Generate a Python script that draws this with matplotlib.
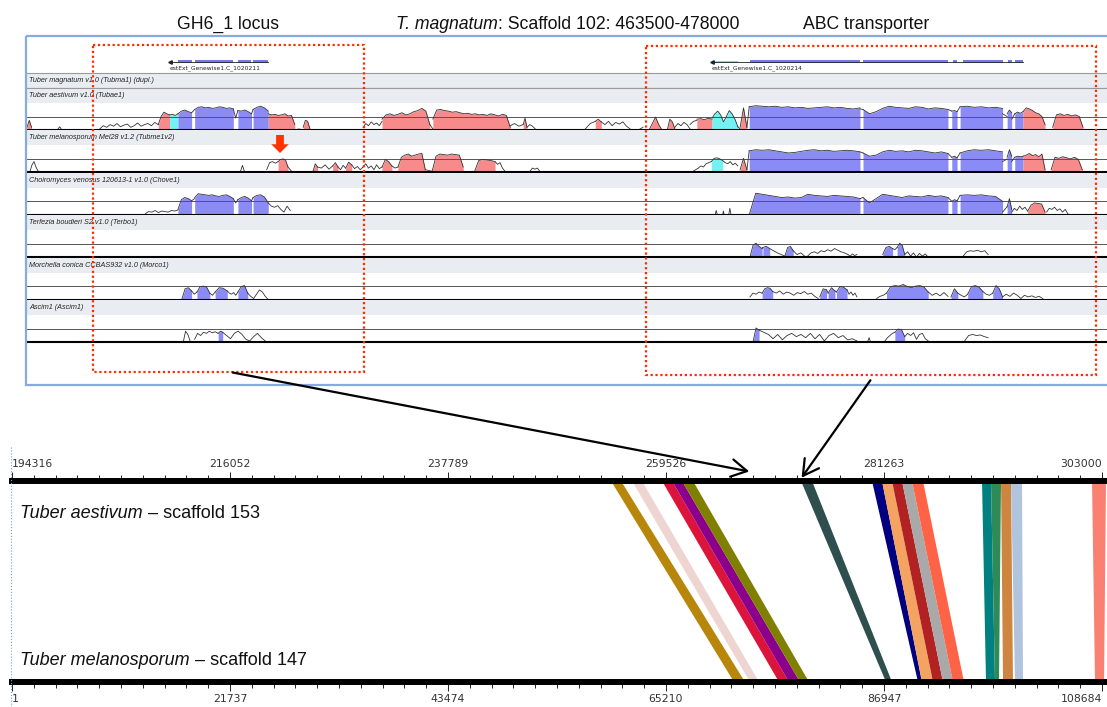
import numpy as np
import matplotlib
matplotlib.use("Agg")
import matplotlib.pyplot as plt
from matplotlib import font_manager
from matplotlib.lines import Line2D
from matplotlib.patches import Rectangle, Polygon, FancyArrowPatch
from matplotlib.transforms import Affine2D

W, H = 1107, 707

# ---- VISTA conservation tracks (scaffold 102, kb; values = % identity) ----
# each block: (start kb, end kb, class, values); class b=exon, r=CNS, c=UTR, k=unfilled
tubae1 = [
    (463.50, 463.56, "r", [55, 68, 55]),
    (463.90, 463.96, "k", [50, 56, 50]),
    (464.46, 465.23, "k", [52, 58, 55, 60, 57, 62, 56, 59, 61, 55, 58, 63, 57, 60, 62, 58, 64, 60]),
    (465.23, 465.38, "r", [60, 75, 83, 80, 78]),
    (465.38, 465.49, "c", [78, 79, 77, 80]),
    (465.49, 465.67, "b", [80, 85, 87, 84, 82]),
    (465.67, 465.71, "k", [82, 88]),
    (465.71, 466.22, "b", [88, 92, 93, 91, 92, 90, 91, 93, 92, 90, 91, 89]),
    (466.22, 466.28, "k", [89, 72, 86]),
    (466.28, 466.46, "b", [86, 85, 87, 84, 80]),
    (466.46, 466.48, "k", [80, 88]),
    (466.48, 466.68, "b", [88, 92, 94, 91, 85]),
    (466.68, 467.03, "r", [80, 78, 79, 77, 78, 80, 76, 77, 60]),
    (467.03, 467.14, "k", [50, 52, 50]),
    (467.14, 467.23, "r", [55, 68, 66, 52]),
    (467.93, 468.18, "k", [55, 62, 58, 65, 60, 63, 58, 66]),
    (468.18, 468.81, "r", [70, 78, 80, 77, 79, 82, 78, 80, 84, 86, 90, 85, 60]),
    (468.81, 468.85, "k", [60, 52]),
    (468.85, 469.87, "r", [70, 87, 88, 86, 85, 83, 84, 82, 80, 81, 79, 80, 78, 79, 77, 80, 78, 76, 79, 77, 55]),
    (469.87, 470.04, "k", [58, 62, 57, 60]),
    (470.04, 470.09, "r", [60, 72, 55]),
    (470.09, 470.20, "k", [55, 60, 57, 52]),
    (470.86, 470.99, "k", [52, 62, 66]),
    (470.99, 471.07, "r", [66, 70, 65]),
    (471.07, 471.45, "k", [65, 60, 66, 58, 64, 61, 65, 57, 52]),
    (471.58, 471.62, "k", [52, 55]),
    (471.70, 471.87, "r", [50, 62, 74, 60, 50]),
    (471.94, 472.04, "r", [50, 70, 65, 52]),
    (472.04, 472.24, "k", [55, 62, 58, 64, 60, 52]),
    (472.24, 472.33, "k", [60, 66, 68]),
    (472.33, 472.53, "r", [70, 71, 69, 72, 70]),
    (472.53, 472.87, "c", [72, 80, 85, 78, 65, 75, 86, 80, 70, 56]),
    (472.87, 472.90, "k", [56, 52]),
    (472.90, 472.99, "r", [55, 91, 55]),
    (472.99, 473.02, "k", [55, 93]),
    (473.02, 474.48, "b", [93, 95, 94, 93, 94, 92, 93, 91, 92, 90, 91, 92, 93, 91, 92, 90, 89, 91]),
    (474.48, 474.52, "k", [89, 88]),
    (474.52, 475.64, "b", [88, 80, 84, 90, 94, 92, 91, 90, 93, 92, 89, 91, 90, 88]),
    (475.64, 475.69, "k", [88, 85]),
    (475.69, 475.76, "b", [85, 86, 84]),
    (475.76, 475.80, "k", [84, 93]),
    (475.80, 476.36, "b", [93, 94, 92, 93, 91, 92, 90]),
    (476.36, 476.42, "k", [80, 75]),
    (476.42, 476.48, "b", [80, 87, 82]),
    (476.48, 476.52, "k", [70, 80]),
    (476.52, 476.63, "b", [80, 83, 81, 84]),
    (476.63, 476.92, "r", [84, 91, 89, 86, 82, 80, 75, 60]),
    (477.02, 477.42, "r", [55, 78, 80, 77, 79, 76, 78, 75, 55]),
]

tubme1v2 = [
    (463.54, 463.67, "k", [52, 64, 70, 60, 53, 50]),
    (466.31, 466.37, "k", [50, 63, 50]),
    (466.66, 466.81, "k", [55, 68, 70, 67, 70]),
    (466.81, 466.94, "r", [70, 74, 75, 73, 60]),
    (466.94, 467.00, "k", [60, 55, 50]),
    (467.27, 467.33, "r", [52, 66, 60]),
    (467.33, 467.53, "k", [60, 58, 64, 56, 62]),
    (467.53, 467.60, "r", [62, 68, 60]),
    (467.60, 467.70, "k", [60, 55, 63, 58]),
    (467.70, 467.78, "r", [58, 69, 64]),
    (467.78, 467.93, "k", [64, 57, 61, 55, 60]),
    (467.93, 468.18, "k", [60, 66, 58, 62, 55, 64, 57, 60]),
    (468.18, 468.31, "r", [60, 74, 70, 62]),
    (468.31, 468.39, "k", [62, 58, 60]),
    (468.39, 468.75, "r", [60, 78, 82, 84, 80, 82, 84, 85, 55]),
    (468.75, 468.84, "k", [55, 52]),
    (468.84, 469.25, "r", [52, 80, 84, 83, 82, 84, 83, 82, 60]),
    (469.40, 469.67, "r", [52, 72, 74, 73, 72, 70]),
    (469.67, 469.80, "k", [70, 65, 68, 58, 52]),
    (470.13, 470.26, "k", [52, 58, 56, 58, 52]),
    (472.28, 472.52, "k", [52, 55, 58, 62, 60, 66, 68, 70]),
    (472.52, 472.67, "c", [70, 76, 77, 75, 72]),
    (472.67, 472.87, "k", [72, 68, 66, 70, 64, 67, 62]),
    (472.90, 472.99, "r", [55, 76, 55]),
    (472.99, 473.02, "k", [55, 90]),
    (473.02, 474.48, "b", [90, 92, 91, 92, 90, 88, 86, 87, 89, 91, 92, 90, 91, 89, 90, 91, 90, 88]),
    (474.48, 474.52, "k", [88, 86]),
    (474.52, 475.64, "b", [86, 80, 82, 88, 91, 89, 90, 88, 91, 90, 88, 86, 88, 85]),
    (475.64, 475.69, "k", [85, 78]),
    (475.69, 475.76, "b", [78, 80, 77]),
    (475.76, 475.80, "k", [77, 86]),
    (475.80, 476.36, "b", [86, 90, 92, 91, 92, 90, 88]),
    (476.36, 476.42, "k", [70, 75]),
    (476.42, 476.48, "b", [78, 92, 80]),
    (476.48, 476.52, "k", [70, 78]),
    (476.52, 476.63, "b", [78, 80, 79, 80]),
    (476.63, 476.92, "r", [80, 82, 85, 81, 83, 79, 84, 55]),
    (477.00, 477.41, "r", [55, 78, 76, 79, 77, 75, 78, 74, 55]),
]

chove1 = [
    (465.06, 465.49, "k", [52, 56, 55, 58, 54, 57, 56, 55, 58, 57, 59]),
    (465.49, 465.67, "b", [60, 78, 82, 80, 76]),
    (465.67, 465.71, "k", [76, 80]),
    (465.71, 466.22, "b", [82, 89, 88, 87, 86, 87, 85, 84, 86, 87, 84, 80]),
    (466.22, 466.28, "k", [80, 72, 78]),
    (466.28, 466.46, "b", [78, 82, 84, 81, 76]),
    (466.46, 466.48, "k", [76, 82]),
    (466.48, 466.68, "b", [82, 86, 87, 83, 72]),
    (466.68, 466.97, "k", [72, 66, 64, 67, 60, 55, 66, 58]),
    (472.57, 472.60, "k", [50, 58, 50]),
    (472.67, 472.69, "k", [50, 57, 50]),
    (472.75, 472.78, "k", [50, 62, 50]),
    (473.02, 474.48, "b", [50, 90, 88, 86, 84, 82, 83, 81, 82, 88, 86, 85, 84, 86, 85, 84, 83, 80]),
    (474.48, 474.52, "k", [80, 82]),
    (474.52, 475.64, "b", [82, 72, 80, 88, 86, 84, 82, 85, 84, 83, 86, 84, 85, 82]),
    (475.64, 475.69, "k", [82, 75]),
    (475.69, 475.76, "b", [75, 78, 76]),
    (475.76, 475.80, "k", [76, 86]),
    (475.80, 476.36, "b", [86, 87, 86, 87, 85, 84, 75]),
    (476.36, 476.42, "k", [55, 65]),
    (476.42, 476.48, "b", [65, 80, 60]),
    (476.48, 476.69, "k", [55, 62, 58, 66, 60, 64, 57]),
    (476.69, 476.92, "r", [57, 68, 72, 71, 70, 55]),
    (476.94, 477.22, "k", [55, 62, 60, 64, 58, 61, 55, 60, 52]),
]

terbo1 = [
    (473.03, 473.19, "b", [50, 72, 76, 70, 66]),
    (473.19, 473.20, "k", [66, 68]),
    (473.20, 473.29, "b", [68, 70, 66]),
    (473.29, 473.49, "k", [66, 62, 58, 55, 52]),
    (473.49, 473.60, "b", [52, 68, 70, 62]),
    (473.60, 473.75, "k", [62, 55, 58, 52]),
    (473.79, 474.32, "k", [52, 58, 60, 57, 62, 60, 64, 61, 66, 63, 60, 58, 55]),
    (474.32, 474.44, "k", [55, 52, 56, 53, 55]),
    (474.78, 474.91, "b", [55, 68, 70, 66]),
    (474.91, 474.97, "k", [66, 64, 68]),
    (474.97, 475.07, "b", [68, 76, 72, 55]),
    (475.07, 475.38, "k", [55, 60, 52, 58, 50, 57, 52, 56, 50]),
    (475.84, 476.17, "k", [52, 60, 62, 61, 63, 60, 62, 55]),
]

morco1 = [
    (465.54, 465.67, "b", [50, 70, 72, 66]),
    (465.67, 465.74, "k", [66, 60, 64]),
    (465.74, 465.91, "b", [64, 74, 75, 73, 62]),
    (465.91, 465.98, "k", [62, 58, 64]),
    (465.98, 466.14, "b", [64, 72, 71, 66]),
    (466.14, 466.28, "k", [66, 62, 60, 63, 58, 64]),
    (466.28, 466.41, "b", [64, 74, 76, 62]),
    (466.41, 466.68, "k", [62, 56, 52, 60, 68, 64, 56, 50]),
    (473.03, 473.19, "k", [55, 62, 60, 64, 62]),
    (473.19, 473.33, "b", [62, 70, 72, 71, 65]),
    (473.33, 473.93, "k", [65, 62, 66, 60, 64, 62, 58, 63, 61, 65, 60, 62, 56, 52]),
    (473.95, 474.04, "b", [55, 70, 68]),
    (474.04, 474.06, "k", [68, 62]),
    (474.06, 474.15, "b", [62, 72, 66]),
    (474.15, 474.17, "k", [66, 64]),
    (474.17, 474.31, "b", [64, 74, 73, 68]),
    (474.31, 474.44, "k", [68, 60, 64, 58, 62, 55]),
    (474.70, 474.83, "k", [52, 56, 58, 62]),
    (474.83, 475.38, "b", [62, 74, 76, 75, 78, 74, 72, 75, 76, 73, 64]),
    (475.38, 475.64, "k", [64, 58, 62, 57, 63, 56]),
    (475.68, 475.77, "b", [55, 70, 62]),
    (475.77, 475.90, "k", [62, 58, 55, 60]),
    (475.90, 476.10, "b", [60, 74, 76, 73, 65]),
    (476.10, 476.23, "k", [65, 60, 58, 62]),
    (476.23, 476.36, "b", [62, 76, 70, 55]),
    (476.36, 476.89, "k", [55, 60, 56, 62, 58, 52, 58, 55, 57, 54, 56, 52]),
]

ascim1 = [
    (465.56, 465.65, "k", [50, 70, 64, 52]),
    (465.71, 466.02, "k", [55, 66, 62, 68, 66, 70, 67, 69, 66]),
    (466.02, 466.08, "b", [66, 70, 68]),
    (466.08, 466.64, "k", [68, 62, 56, 66, 70, 64, 55, 52, 60, 66, 58, 52]),
    (473.07, 473.15, "b", [50, 76, 72]),
    (473.15, 474.44, "k", [72, 68, 64, 56, 64, 54, 62, 66, 60, 64, 58, 66, 56, 64, 52, 62, 66, 58, 62, 54, 56, 52]),
    (474.58, 474.62, "k", [50, 58, 50]),
    (474.81, 474.94, "k", [52, 58, 62, 66, 68]),
    (474.94, 475.07, "b", [68, 74, 73, 60]),
    (475.07, 475.38, "k", [60, 66, 62, 67, 55, 64, 66, 56, 52]),
    (475.86, 476.17, "k", [52, 62, 64, 62, 63, 60, 58]),
]

track_names = [
    "Tuber aestivum v1.0 (Tubae1)",
    "Tuber melanosporum Mel28 v1.2 (Tubme1v2)",
    "Choiromyces venosus 120613-1 v1.0 (Chove1)",
    "Terfezia boudieri S2 v1.0 (Terbo1)",
    "Morchella conica CCBAS932 v1.0 (Morco1)",
    "Ascim1 (Ascim1)",
]
track_data = [tubae1, tubme1v2, chove1, terbo1, morco1, ascim1]

# gene models on scaffold 102 (kb)
gh6_span = (465.38, 466.68)
gh6_exons = [(465.49, 465.67), (465.71, 466.22), (466.28, 466.45), (466.48, 466.68)]
abc_span = (472.53, 476.63)
abc_utr = (472.53, 472.87)
abc_exons = [(473.03, 474.48), (474.52, 475.64), (475.70, 475.76),
             (475.84, 476.36), (476.43, 476.48), (476.53, 476.63)]

# ---- synteny between T. aestivum scaffold 153 and T. melanosporum scaffold 147 ----
aest_ticks = [194316, 216052, 237789, 259526, 281263, 303000]
mel_ticks = [1, 21737, 43474, 65210, 86947, 108684]
link_colors = ["#b8860b", "#eed5d2", "#dc143c", "#8b008b", "#808000", "#2f4f4f",
               "#000080", "#f4a460", "#b22222", "#a9a9a9", "#ff6347", "#008080",
               "#2e8b57", "#cd853f", "#b0c4de", "#fa8072"]
aest_start = [254042, 256136, 259128, 260125, 261122, 272987, 280067, 281064,
              282061, 283058, 284055, 291035, 291932, 292929, 293926, 302003]
aest_end = [255039, 257133, 260125, 261122, 262219, 274084, 281064, 282061,
            283058, 284055, 285152, 291932, 292929, 293926, 295023, 303400]
mel_start = [71992, 73586, 76478, 77475, 78572, 87147, 90338, 90735,
             91833, 92830, 93827, 97118, 98015, 98813, 100010, 107987]
mel_end = [73087, 74485, 77475, 78572, 79469, 87746, 90735, 91833,
           92830, 93827, 94924, 98015, 98414, 99810, 100808, 108886]

fills = {"b": "#8b8bf6", "r": "#f78b8b", "c": "#72f2f2"}

names = {f.name for f in font_manager.fontManager.ttflist}
if "Liberation Sans Narrow" in names:
    sp_font, sp_size = "Liberation Sans Narrow", 15
else:
    sp_font, sp_size = "Liberation Sans", 13

fig = plt.figure(figsize=(W / 100, H / 100), dpi=100)
fig.patch.set_facecolor("white")
tpx = Affine2D().scale(1 / W, -1 / H).translate(0, 1) + fig.transFigure


def px_box(x0, y0, x1, y1):
    return [x0 / W, 1 - y1 / H, (x1 - x0) / W, (y1 - y0) / H]


def bare(ax):
    ax.set_xticks([])
    ax.set_yticks([])
    for s in ax.spines.values():
        s.set_visible(False)


# ---- top panel: gene row ----
ax_g = fig.add_axes(px_box(27, 45, 1127, 73))
bare(ax_g)
ax_g.set_xlim(463.5, 478.0)
ax_g.set_ylim(0, 1)
for span, exons in [(gh6_span, gh6_exons), (abc_span, abc_exons)]:
    ax_g.plot(span, [0.39, 0.39], color="#222", lw=0.6)
    ax_g.plot([span[0]], [0.39], marker="<", ms=2.5, color="#222")
    for a, b in exons:
        ax_g.add_patch(Rectangle((a, 0.34), b - a, 0.11, color="#7777ee", lw=0))
ax_g.add_patch(Rectangle((abc_utr[0], 0.365), abc_utr[1] - abc_utr[0], 0.05,
                         color="#7fd6ee", lw=0))
ax_g.text(gh6_span[0], 0.16, "estExt_Genewise1.C_1020211", fontsize=4.3,
          va="center", color="#222")
ax_g.text(abc_span[0], 0.16, "estExt_Genewise1.C_1020214", fontsize=4.3,
          va="center", color="#222")

# reference (duplicate) row
ax_ref = fig.add_axes(px_box(27, 73, 1127, 88))
bare(ax_ref)
ax_ref.set_facecolor("#e9edf1")
for s in ("top", "bottom"):
    ax_ref.spines[s].set_visible(True)
    ax_ref.spines[s].set_color("#9a9a9a")
    ax_ref.spines[s].set_linewidth(0.8)
ax_ref.text(0.002, 0.5, "Tuber magnatum v1.0 (Tubma1) (dupl.)", transform=ax_ref.transAxes,
            fontsize=5.2, style="italic", family="Liberation Sans", va="center", color="#222")

# conservation tracks
for i, (name, blocks) in enumerate(zip(track_names, track_data)):
    top = 88 + 42.4 * i
    lab = fig.add_axes(px_box(27, top, 1127, top + 15))
    bare(lab)
    lab.set_facecolor("#e9edf1")
    if i == 0:
        lab.spines["top"].set_visible(True)
        lab.spines["top"].set_color("#9a9a9a")
        lab.spines["top"].set_linewidth(0.8)
    lab.text(0.002, 0.5, name, transform=lab.transAxes, fontsize=5.2, style="italic",
             family="Liberation Sans", va="center", color="#222")

    ax = fig.add_axes(px_box(27, top + 15, 1127, top + 42))
    bare(ax)
    ax.spines["bottom"].set_visible(True)
    ax.spines["bottom"].set_linewidth(1.5)
    ax.set_xlim(463.5, 478.0)
    ax.set_ylim(50, 100)
    ax.axhline(75, color="#555", lw=0.7)
    for start, end, cls, vals in blocks:
        x = np.linspace(start, end, len(vals))
        if cls != "k":
            ax.fill_between(x, 50, vals, color=fills[cls], lw=0)
        ax.plot(x, vals, color="#333", lw=0.6)

# panel frame
fig.add_artist(Rectangle((26, 36), 1200, 349, transform=tpx, fill=False,
                         ec="#86abdc", lw=1.6))

# loci boxes
for x0, y0, x1, y1 in [(93, 45, 364, 372), (646, 46, 1096, 375)]:
    fig.add_artist(Rectangle((x0, y0), x1 - x0, y1 - y0, transform=tpx, fill=False,
                             ec="#ff2a00", lw=1.6, ls=(0, (1, 1.2))))

# marker on the T. melanosporum track
fig.add_artist(FancyArrowPatch((280, 135), (280, 153), transform=tpx,
                               arrowstyle="simple,head_length=0.45,head_width=0.9,tail_width=0.4",
                               mutation_scale=14, color="#ff3300", lw=0,
                               shrinkA=0, shrinkB=0))

# titles
tfont = dict(family="Liberation Sans", fontsize=12.7, color="#111", va="baseline")
fig.text(228, 29, "GH6_1 locus", transform=tpx, ha="center", **tfont)
fig.text(866, 29, "ABC transporter", transform=tpx, ha="center", **tfont)
t_it = fig.text(396, 29, "T. magnatum", transform=tpx, ha="left", style="italic", **tfont)

# ---- bottom panel: synteny ----
ax_a = fig.add_axes(px_box(12, 481, 1107, 682))
ax_m = fig.add_axes(px_box(12, 481, 1107, 682))
for ax in (ax_a, ax_m):
    ax.set_facecolor("none")
    for s in ax.spines.values():
        s.set_visible(False)
    ax.set_yticks([])
    ax.set_ylim(0, 1)
ax_a.set_xlim(194316, 303498)
ax_m.set_xlim(1, 109182)

ax_a.spines["top"].set_visible(True)
ax_a.spines["top"].set_linewidth(4.3)
ax_a.xaxis.tick_top()
ax_a.set_xticks(aest_ticks)
ax_a.set_xticklabels([str(t) for t in aest_ticks])
ax_a.set_xticks(np.arange(aest_ticks[0], aest_ticks[-1] + 1, (aest_ticks[1] - aest_ticks[0]) / 10),
                minor=True)

ax_m.spines["bottom"].set_visible(True)
ax_m.spines["bottom"].set_linewidth(4.3)
ax_m.set_xticks(mel_ticks)
ax_m.set_xticklabels([str(t) for t in mel_ticks])
ax_m.set_xticks(np.arange(mel_ticks[0], mel_ticks[-1] + 1, (mel_ticks[1] - mel_ticks[0]) / 10),
                minor=True)

for ax in (ax_a, ax_m):
    ax.tick_params(axis="x", which="major", length=6.5, width=0.7, color="#222",
                   labelsize=7.8, labelcolor="#333", pad=2)
    ax.tick_params(axis="x", which="minor", length=4.3, width=0.7, color="#222")
    labels = ax.get_xticklabels()
    labels[0].set_horizontalalignment("left")
    labels[-1].set_horizontalalignment("right")
    for lb in labels:
        lb.set_family("DejaVu Sans")

# melanosporum positions expressed on the aestivum axis
to_a = ax_m.transData + ax_a.transData.inverted()
zeros = np.zeros(len(mel_start))
mel_s = to_a.transform(np.column_stack([mel_start, zeros]))[:, 0]
mel_e = to_a.transform(np.column_stack([mel_end, zeros]))[:, 0]
for c, a0, a1, b0, b1 in zip(link_colors, aest_start, aest_end, mel_s, mel_e):
    ax_a.add_patch(Polygon([(a0, 1), (a1, 1), (b1, 0), (b0, 0)], closed=True,
                           fc=c, lw=0, zorder=1))

fig.add_artist(Line2D([11, 11], [447, 707], transform=tpx, ls=":", color="#7f9bbf", lw=0.8))

sfont = dict(family=[sp_font, "Liberation Sans"], fontsize=sp_size, color="#111")
t1 = fig.text(20, 518, "Tuber aestivum", transform=tpx, style="italic", va="baseline", **sfont)
t2 = fig.text(20, 665, "Tuber melanosporum", transform=tpx, style="italic", va="baseline", **sfont)
ax_a.annotate(" \u2013 scaffold 153", xy=(1, 0), xycoords=t1, va="bottom", ha="left",
              annotation_clip=False, **sfont)
ax_a.annotate(" \u2013 scaffold 147", xy=(1, 0), xycoords=t2, va="bottom", ha="left",
              annotation_clip=False, **sfont)
ax_a.annotate(": Scaffold 102: 463500-478000", xy=(1, 0), xycoords=t_it, va="bottom",
              ha="left", annotation_clip=False, family="Liberation Sans", fontsize=12.7,
              color="#111")

# arrows from the loci to the synteny map
for p0, p1 in [((230, 372), (752, 472)), ((872, 378), (800, 480))]:
    fig.add_artist(FancyArrowPatch(p0, p1, transform=tpx,
                                   arrowstyle="->,head_length=0.8,head_width=0.45",
                                   mutation_scale=14, lw=1.6, color="black"))

fig.savefig("out.png", dpi=100)
